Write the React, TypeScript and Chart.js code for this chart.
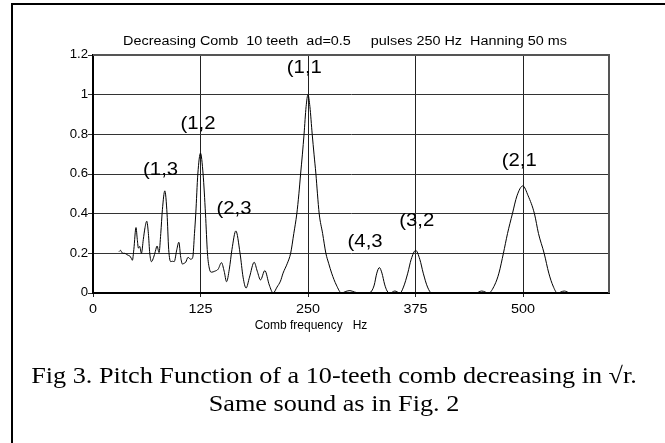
import React, { useEffect, useRef } from 'react';
import { Chart, registerables } from 'chart.js';

Chart.register(...registerables);

const freqHz = [
  30.3, 32, 33.5, 35, 37, 38.8, 41, 42.7, 44.5, 45.8, 47.5, 50, 51.5, 52.8, 54.3, 56.3, 58.5, 60.5, 62.5, 64.4,
  66, 68, 70.5, 72.5, 74.5, 76.8, 78.8, 80.7, 83.5, 86.1, 88, 90.4, 92.5, 94.4, 97.5, 99.8, 102, 104, 106, 107.8,
  110.5, 113.6, 116, 118, 119.5, 121.9, 125, 128, 130.8, 133.1, 135.5, 137.8, 141.6, 145.5, 149.4, 152.5, 155.3,
  158.5, 161.6, 166.1, 171, 174.5, 178, 182, 187.4, 191, 194.8, 199.8, 205, 209.5, 214, 218, 221, 226, 229.8,
  233.5, 237, 239.4, 241.4, 243.5, 245.4, 247.8, 250, 252.2, 254.9, 257, 259.2, 261, 263, 267, 270.8, 274, 277.5,
  283, 289, 294, 298.8, 304, 310, 320, 324, 327, 330, 333, 336, 339, 342, 345.3, 351, 357, 361, 366, 370, 375.2,
  380, 384, 389, 393.8, 420, 445, 452, 460, 467, 472, 477.2, 482, 487.7, 493, 499.8, 506, 513.3, 518, 524.6, 530,
  535, 540, 548, 555, 575, 600,
];
const pitch = [
  0.209, 0.215, 0.205, 0.2, 0.2, 0.195, 0.19, 0.187, 0.175, 0.165, 0.22, 0.33, 0.27, 0.226, 0.235, 0.2, 0.27, 0.33, 0.362, 0.3,
  0.2, 0.158, 0.18, 0.21, 0.237, 0.204, 0.3, 0.42, 0.515, 0.4, 0.22, 0.158, 0.16, 0.158, 0.22, 0.256, 0.18, 0.146, 0.15, 0.155,
  0.18, 0.17, 0.18, 0.3, 0.4, 0.6, 0.705, 0.6, 0.4, 0.2, 0.12, 0.105, 0.11, 0.12, 0.153, 0.11, 0.057,
  0.12, 0.22, 0.313, 0.2, 0.08, 0.025, 0.08, 0.155, 0.11, 0.066, 0.113, 0.04, 0.0, 0.03, 0.06, 0.1, 0.15, 0.2,
  0.3, 0.4, 0.5, 0.6, 0.7, 0.8, 0.94, 1.0, 0.94, 0.8, 0.7, 0.6, 0.5, 0.4, 0.3, 0.2, 0.15, 0.1,
  0.04, 0.0, 0.008, 0.012, 0.005, 0.0, 0.0, 0.01, 0.04, 0.1, 0.128, 0.1, 0.045, 0.01, 0.0, 0.01, 0.0, 0.03, 0.1, 0.17, 0.215,
  0.17, 0.1, 0.03, 0.0, 0.0, 0.0, 0.01, 0.0, 0.04, 0.1, 0.2, 0.3, 0.4, 0.49, 0.54, 0.49, 0.4, 0.3, 0.2, 0.1,
  0.035, 0.0, 0.01, 0.0, 0.0, 0.0,
];

const xTicks = [0, 125, 250, 375, 500];
const yTicks = [0, 0.2, 0.4, 0.6, 0.8, 1, 1.2];
const xMin = 0;
const xMax = 600;
const yMin = 0;
const yMax = 1.2;

const peakLabels = ['(1,3', '(1,2', '(2,3', '(1,1', '(4,3', '(3,2', '(2,1'];
const peakLabelFreq = [58.2, 101.7, 143.6, 225.4, 296, 356.1, 475.3];
const peakLabelValue = [0.621, 0.853, 0.424, 1.136, 0.255, 0.364, 0.667];

const titleText = 'Decreasing Comb  10 teeth  ad=0.5     pulses 250 Hz  Hanning 50 ms';
const xAxisTitle = 'Comb frequency   Hz';
const captionLines = [
  'Fig 3. Pitch Function of a 10-teeth comb decreasing in \u221Ar.',
  'Same sound as in Fig. 2',
];

const SANS = 'Arial, "Liberation Sans", sans-serif';
const SERIF = '"Times New Roman", "Liberation Serif", serif';

function drawText(ctx: any, text: string, x: number, y: number, font: string, align: string, sx: number) {
  ctx.save();
  ctx.font = font;
  ctx.textAlign = align;
  ctx.textBaseline = 'middle';
  ctx.fillStyle = '#000';
  ctx.translate(x, y);
  ctx.scale(sx, 1);
  ctx.fillText(text, 0, 0);
  ctx.restore();
}

const decorPlugin = {
  id: 'decor',
  afterDraw(chart: any) {
    const { ctx, chartArea, scales } = chart;
    const xs = scales.x;
    const ys = scales.y;
    ctx.save();
    // outer frame
    ctx.strokeStyle = '#000';
    ctx.lineWidth = 2;
    ctx.strokeRect(12, 4, 700, 500);
    // plot frame top / right
    ctx.strokeStyle = '#555';
    ctx.lineWidth = 2;
    ctx.beginPath();
    ctx.moveTo(chartArea.left, chartArea.top);
    ctx.lineTo(chartArea.right, chartArea.top);
    ctx.lineTo(chartArea.right, chartArea.bottom);
    ctx.stroke();
    ctx.restore();

    // tick labels
    for (const v of xTicks) {
      drawText(ctx, String(v), xs.getPixelForValue(v), 310, '12px ' + SANS, 'center', 1.2);
    }
    for (const v of yTicks) {
      drawText(ctx, String(v), 88, ys.getPixelForValue(v), '12px ' + SANS, 'right', 1.1);
    }
    // title
    drawText(ctx, titleText, 345, 42, '12px ' + SANS, 'center', 1.2);
    // axis title
    drawText(ctx, xAxisTitle, 311, 326, '12px ' + SANS, 'center', 1.0);
    // peak labels
    for (let i = 0; i < peakLabels.length; i++) {
      drawText(
        ctx,
        peakLabels[i],
        xs.getPixelForValue(peakLabelFreq[i]),
        ys.getPixelForValue(peakLabelValue[i]),
        '18px ' + SANS,
        'left',
        1.13,
      );
    }
    // caption
    drawText(ctx, captionLines[0], 334, 377, '23px ' + SERIF, 'center', 1.14);
    drawText(ctx, captionLines[1], 334, 405, '23px ' + SERIF, 'center', 1.14);
  },
};

export default function App() {
  const ref = useRef<HTMLCanvasElement>(null);
  useEffect(() => {
    if (!ref.current) return;
    const chart = new Chart(ref.current, {
      type: 'line',
      data: {
        datasets: [
          {
            data: freqHz.map((x, i) => ({ x, y: pitch[i] })),
            borderColor: '#000',
            borderWidth: 1,
            pointRadius: 0,
            fill: false,
            cubicInterpolationMode: 'monotone',
          },
        ],
      },
      options: {
        animation: false,
        responsive: false,
        layout: { padding: { top: 55, right: 56, left: 0, bottom: 0 } },
        plugins: { legend: { display: false }, tooltip: { enabled: false } },
        scales: {
          x: {
            type: 'linear',
            min: xMin,
            max: xMax,
            afterBuildTicks: (s: any) => {
              s.ticks = xTicks.map((v) => ({ value: v }));
            },
            afterFit: (s: any) => {
              s.height = 150;
            },
            ticks: { display: false },
            grid: { color: '#222', lineWidth: 1, tickLength: 4 },
            border: { color: '#000', width: 2 },
          },
          y: {
            type: 'linear',
            min: yMin,
            max: yMax,
            afterBuildTicks: (s: any) => {
              s.ticks = yTicks.map((v) => ({ value: v }));
            },
            afterFit: (s: any) => {
              s.width = 93;
            },
            ticks: { display: false },
            grid: { color: '#333', lineWidth: 1, tickLength: 5 },
            border: { color: '#000', width: 2 },
          },
        },
      },
      plugins: [decorPlugin],
    } as any);
    return () => chart.destroy();
  }, []);
  return (
    <div style={{ position: 'absolute', left: 0, top: 0, width: 665, height: 443, background: '#fff' }}>
      <canvas ref={ref} width={665} height={443} style={{ display: 'block' }} />
    </div>
  );
}
